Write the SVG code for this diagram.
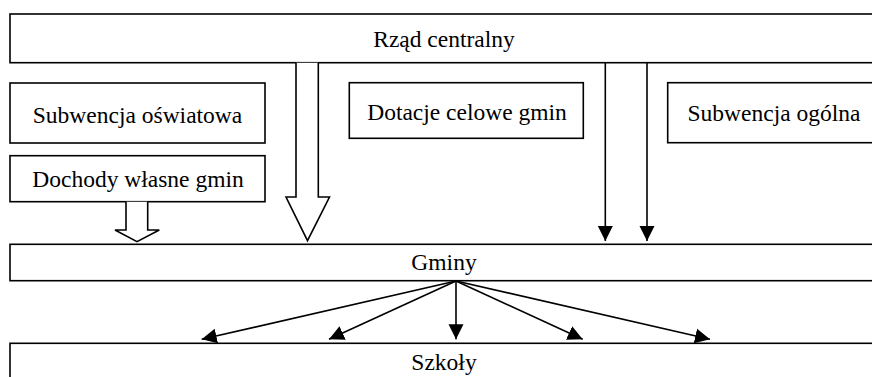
<svg xmlns="http://www.w3.org/2000/svg" width="872" height="377" viewBox="0 0 872 377">
<style>
.box{fill:#fff;stroke:#000;stroke-width:1.6}
.lbl{font-family:"Liberation Serif","Times New Roman",serif;font-size:23.5px;fill:#000;text-anchor:middle}
.ln{fill:none;stroke:#000;stroke-width:1.6}
.hollow{fill:#fff;stroke:#000;stroke-width:1.6;stroke-linejoin:miter}
</style>
<defs>
<marker id="ah" markerUnits="userSpaceOnUse" markerWidth="16" markerHeight="16" viewBox="0 0 16 16" refX="15" refY="8" orient="auto">
<path d="M0,0.5 L15,8 L0,15.5 Z" fill="#000"/>
</marker>
</defs>
<g id="rzad"><rect class="box" x="10" y="14" width="870" height="48.7"/><text class="lbl" x="444" y="46.5">Rząd centralny</text></g>
<g id="subw-osw"><rect class="box" x="10" y="83" width="255" height="60"/><text class="lbl" x="137.5" y="122.5">Subwencja oświatowa</text></g>
<g id="dochody"><rect class="box" x="10" y="155.7" width="255" height="46"/><text class="lbl" x="138" y="186.5">Dochody własne gmin</text></g>
<g id="dotacje"><rect class="box" x="349.3" y="82.7" width="234" height="55.6"/><text class="lbl" x="467" y="119.5">Dotacje celowe gmin</text></g>
<g id="subw-og"><rect class="box" x="667.7" y="82.7" width="212" height="60"/><text class="lbl" x="774" y="120.5">Subwencja ogólna</text></g>
<g id="gminy"><rect class="box" x="10" y="244.3" width="870" height="36.4"/><text class="lbl" x="444" y="269.5">Gminy</text></g>
<g id="szkoly"><rect class="box" x="10" y="343.3" width="870" height="50"/><text class="lbl" x="444" y="370">Szkoły</text></g>
<g id="connectors">
<path class="hollow" d="M296,62.7 L296,197 L286,197 L307.5,240.7 L329.5,197 L318.3,197 L318.3,62.7"/>
<path class="hollow" d="M126,201.7 L126,230 L115,230 L137,241.7 L159.3,230 L147.7,230 L147.7,201.7"/>
<line class="ln" x1="605.3" y1="62.7" x2="605.3" y2="241" marker-end="url(#ah)"/>
<line class="ln" x1="647" y1="62.7" x2="647" y2="241" marker-end="url(#ah)"/>
<line class="ln" x1="456" y1="281" x2="201.7" y2="339.3" marker-end="url(#ah)"/>
<line class="ln" x1="456" y1="281" x2="329" y2="339.3" marker-end="url(#ah)"/>
<line class="ln" x1="456" y1="281" x2="456" y2="339.3" marker-end="url(#ah)"/>
<line class="ln" x1="456" y1="281" x2="582.7" y2="339.3" marker-end="url(#ah)"/>
<line class="ln" x1="456" y1="281" x2="710" y2="339.3" marker-end="url(#ah)"/>
</g>
</svg>
